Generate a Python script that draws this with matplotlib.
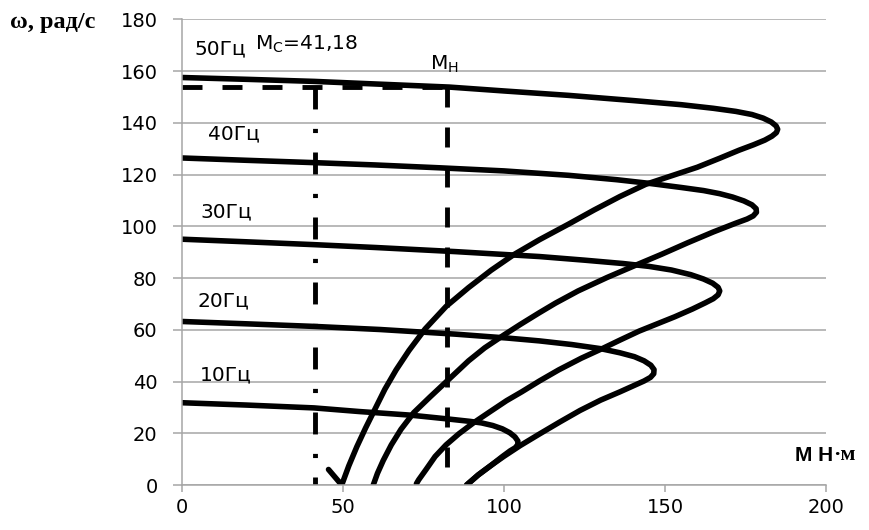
import matplotlib
matplotlib.use('Agg')
import matplotlib.pyplot as plt

# mechanical characteristics: torque M (N*m), speed w (rad/s)
m_50 = [0, 20, 41, 60, 83, 100, 120, 140, 155, 165, 172, 177, 180.5, 183, 184.5, 185,
        184.6, 183.2, 181, 177.5, 173, 167, 160, 152, 144, 136, 128, 120, 111, 103, 96,
        89, 82, 75.5, 70.5, 66.5, 63, 60, 57, 54.3, 51.8, 49.6, 45.5]
w_50 = [157.5, 156.8, 156, 155, 153.8, 152.3, 150.6, 148.6, 147, 145.6, 144.4, 143.2,
        141.8, 140.3, 138.8, 137.5, 136.2, 134.8, 133.3, 131.5, 129.4, 126.3, 122.8,
        119.5, 116.2, 111.5, 106.3, 100.8, 94.8, 89, 83, 76.3, 69, 60.3, 52, 44.5, 37,
        29.5, 22, 14.8, 7.4, 0, 6]

m_40 = [0, 20, 41, 60, 80, 100, 120, 135, 145, 155, 162, 167, 171, 174.5, 177, 178.3,
        178.4, 177.4, 175.5, 172, 165, 157, 149, 141, 132, 123, 116, 111, 105, 100, 94,
        89, 83, 77, 72, 68, 65, 62.5, 60.7, 59.4]
w_40 = [126.4, 125.5, 124.6, 123.7, 122.6, 121.4, 119.7, 118, 116.6, 115, 113.8, 112.6,
        111.3, 109.8, 108.3, 106.8, 105.4, 104, 102.8, 101.2, 97.8, 93.6, 89.2, 85,
        80.2, 75, 70.3, 66.6, 62, 58, 53, 48, 41, 34, 28, 21.5, 15.5, 9.5, 4.5, 0]

m_30 = [0, 20, 41, 60, 85, 111, 125, 137, 145, 152, 158, 162, 164.8, 166.5, 167, 166.5,
        165, 162.5, 158.5, 153, 147, 142, 136, 131, 124, 117, 111, 105.5, 100.8, 95.5,
        90.5, 86, 82, 78.6, 75.8, 73.5, 72.8]
w_30 = [95, 94, 92.9, 91.8, 90.2, 88.3, 86.9, 85.6, 84.5, 83.1, 81.3, 79.6, 78, 76.4, 75,
        73.5, 72, 70.4, 68, 65, 62, 59.5, 56, 53, 49, 44.5, 40.2, 36, 32.6, 28.2, 24,
        19.8, 15.5, 11, 6, 2, 0.5]

m_20 = [0, 20, 41, 61.5, 85, 101, 111, 121, 130, 136, 140.5, 143.5, 145.6, 146.6, 146.5,
        145.5, 143.5, 141, 136, 130, 123.6, 117.4, 111, 105, 100, 96, 92, 88.4]
w_20 = [63.2, 62.3, 61.3, 60.1, 58.3, 56.8, 55.7, 54.3, 52.7, 51.1, 49.6, 48, 46.3, 44.6,
        43, 41.6, 40.2, 38.8, 36, 32.8, 28.8, 24.4, 19.7, 15.2, 11.1, 7.6, 3.9, 0]

m_10 = [0, 20, 41, 55, 71, 82, 89.4, 93, 96.5, 99.5, 101.8, 103.4, 104.3, 104.3, 103.5,
        101.9, 99.5, 96, 92, 88.4]
w_10 = [31.8, 30.9, 29.8, 28.4, 27, 25.6, 24.6, 24, 23, 21.7, 20.2, 18.6, 17, 15.6, 14.4,
        13.2, 11, 7.6, 3.9, 0]

freq_labels = ['50Гц', '40Гц', '30Гц', '20Гц', '10Гц']

m_c = 41.18   # load torque
m_n = 82.4    # nominal torque
w_n = 153.8   # nominal speed

plt.rcParams['font.family'] = ['DejaVu Sans']
plt.rcParams['lines.scale_dashes'] = False

fig = plt.figure(figsize=(8.7, 5.3), dpi=100)
ax = fig.add_axes([0.2092, 0.0849, 0.7402, 0.8787])

grid_col = '#a6a6a6'
ax.set_xlim(0, 200)
ax.set_ylim(0, 180)
ax.set_xticks(range(0, 201, 50))
ax.set_yticks(range(0, 181, 20))
ax.yaxis.grid(True, color=grid_col, lw=1.1)
ax.set_axisbelow(True)
for s in ['top', 'right']:
    ax.spines[s].set_visible(False)
for s in ['left', 'bottom']:
    ax.spines[s].set_color(grid_col)
    ax.spines[s].set_linewidth(1.1)
ax.tick_params(axis='x', length=5, color=grid_col, width=1.1, pad=4, labelsize=14)
ax.tick_params(axis='y', length=6.5, color=grid_col, width=1.1, pad=11, labelsize=14)

for m, w in [(m_50, w_50), (m_40, w_40), (m_30, w_30), (m_20, w_20), (m_10, w_10)]:
    ax.plot(m, w, color='black', lw=4, solid_joinstyle='round', solid_capstyle='round')

# nominal point and load torque lines
ax.plot([0, m_n], [w_n, w_n], color='black', lw=3.5, dashes=(14.4, 14.4),
        dash_capstyle='butt')
ax.plot([m_n, m_n], [w_n, 0], color='black', lw=3.5, dashes=(14.4, 14.4),
        dash_capstyle='butt')
ax.plot([m_c, m_c], [w_n, 0], color='black', lw=3.5, dashes=(15.8, 14, 3, 14),
        dash_capstyle='butt')

label_xy = [(4.0, 166.3), (8.1, 133.7), (5.6, 103.6), (4.7, 69.0), (5.6, 40.6)]
for txt, (x, y) in zip(freq_labels, label_xy):
    ax.text(x, y, txt, fontsize=14.5, va='baseline')

ax.text(22.7, 168.3, 'М$_{\\mathrm{С}}$=41,18', fontsize=14.5, va='baseline')
ax.text(77.0, 160.5, 'М$_{\\mathrm{Н}}$', fontsize=14.5, va='baseline')

# axis titles
t = ax.text(190.4, 9.3, 'М Н', fontsize=15, fontweight='bold', va='baseline',
            family='Liberation Sans', clip_on=False)
ax.annotate('·м', xy=(1, 0), xycoords=t, va='bottom', ha='left', fontsize=16,
            fontweight='bold', family='Liberation Serif', annotation_clip=False)
fig.text(10 / 870, 1 - 28 / 530, 'ω, рад/с', fontsize=17.5, fontweight='bold',
         family='Liberation Serif', va='baseline')

fig.savefig('out.png', dpi=100)
